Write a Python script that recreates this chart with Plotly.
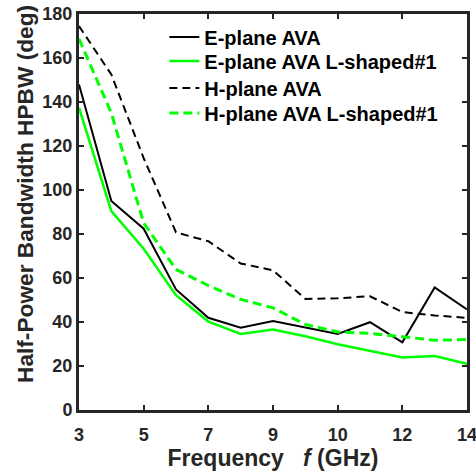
import plotly.graph_objects as go

# x positions (equally spaced sample points) and the tick labels printed under them
x_pos = [0, 1, 2, 3, 4, 5, 6, 7, 8, 9, 10, 11, 12]
tick_vals = [0, 2, 4, 6, 8, 10, 12]
tick_text = ["3", "5", "7", "9", "10", "12", "14"]

e_plane_ava = [148, 95, 82.4, 54.8, 41.9, 37.4, 40.5, 37.6, 34.6, 39.9, 30.8, 55.7, 45.7]
e_plane_l1 = [137.4, 90.4, 73.3, 52.2, 40.2, 34.6, 36.6, 33.5, 29.9, 26.9, 23.9, 24.5, 21.0]
h_plane_ava = [174.5, 152.5, 114.5, 80.7, 76.7, 66.6, 63.5, 50.5, 50.8, 51.7, 44.5, 43.0, 41.9]
h_plane_l1 = [168.7, 135, 85, 63.9, 56.6, 50.3, 46.4, 38.9, 35.5, 34.8, 33.3, 31.7, 32.0]

names = ["E-plane AVA", "E-plane AVA L-shaped#1", "H-plane AVA", "H-plane AVA L-shaped#1"]
x_title = "Frequency\u00a0\u00a0\u00a0<i>f</i> (GHz)"
y_title = "Half-Power Bandwidth HPBW (deg)"

FONT = "Arial, 'Liberation Sans', sans-serif"
TXT = "#262626"

legend_ids = ["legend", "legend2", "legend3", "legend4"]
styles = [
    dict(color="#000000", width=2),
    dict(color="#00FF00", width=2.5),
    dict(color="#000000", width=2, dash="8px,5px"),
    dict(color="#00FF00", width=3, dash="9px,5px"),
]
series = [e_plane_ava, e_plane_l1, h_plane_ava, h_plane_l1]

fig = go.Figure()
for name, ys, st, lg in zip(names, series, styles, legend_ids):
    fig.add_trace(go.Scatter(x=x_pos, y=ys, mode="lines", name=name, line=st, legend=lg))

axis_common = dict(
    showline=True, linecolor=TXT, linewidth=3, mirror="ticks",
    ticks="inside", ticklen=5, tickwidth=2, tickcolor=TXT,
    showgrid=False, zeroline=False, automargin=False, ticklabeloverflow="allow",
    tickfont=dict(family=FONT, size=18, color=TXT, weight="bold"),
)

legend_y = [0.942, 0.881, 0.813, 0.750]
legend_layout = {}
for lg, yy in zip(legend_ids, legend_y):
    legend_layout[lg] = dict(x=0.22, y=yy, xanchor="left", yanchor="middle",
                             bgcolor="rgba(255,255,255,0)", borderwidth=0,
                             font=dict(family=FONT, size=20, color="#000000", weight="bold"),
                             itemwidth=30)

fig.update_layout(
    width=476, height=473,
    margin=dict(l=79, r=9, t=14, b=63),
    paper_bgcolor="white", plot_bgcolor="white",
    font=dict(family=FONT, color=TXT),
    xaxis=dict(range=[0, 12], tickvals=tick_vals, ticktext=tick_text,
               ticklabelstandoff=6,
               title=dict(text=x_title, standoff=2,
                          font=dict(family=FONT, size=23, color=TXT, weight="bold")),
               **axis_common),
    yaxis=dict(range=[0, 180], dtick=20, **axis_common),
    showlegend=True,
    annotations=[dict(text=y_title, textangle=-90, showarrow=False,
                      xref="paper", yref="paper", x=0, y=0.5,
                      xanchor="center", yanchor="middle", xshift=-54, yshift=18,
                      font=dict(family=FONT, size=22.7, color=TXT, weight="bold"))],
    **legend_layout,
)

# remove the browser's default 8px body margin so the figure fills the window exactly
fig.write_html("out.html", config={"displayModeBar": False},
               post_script="document.body.style.margin='0px';")
